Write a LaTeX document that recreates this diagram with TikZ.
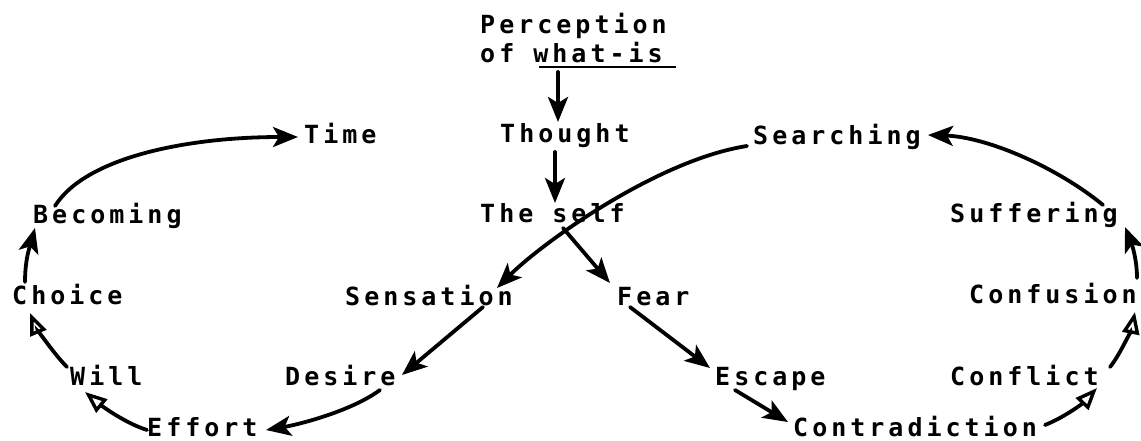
\documentclass[tikz,border=0pt]{standalone}
\usepackage{fontspec}
\newfontfamily\dm[LetterSpace=16]{DejaVu Sans Mono Bold}
\usetikzlibrary{arrows.meta,calc}
\begin{document}
\begin{tikzpicture}[x=1pt,y=-1pt,
  lbl/.style={font=\dm\fontsize{25}{28}\selectfont, inner sep=0pt, anchor=base west},
  con/.style={line width=3.8pt, line cap=round},
  fa/.style={con, -{Stealth[length=25pt,width=20pt,inset=6pt]}},
  oa/.style={con, -{Triangle[open,length=22pt,width=17pt,line width=3.4pt]}}]
\useasboundingbox (0,0) rectangle (1141,440);
\node[lbl] (perc) at (480,33) {Perception};
\node[lbl] (what) at (480,62) {of what-is};
\node[lbl] (time) at (304,143) {Time};
\node[lbl] (thought) at (500,142) {Thought};
\node[lbl] (search) at (753,144) {Searching};
\node[lbl] (becoming) at (33,223) {Becoming};
\node[lbl] (self) at (480,222) {The self};
\node[lbl] (suffer) at (950,222) {Suffering};
\node[lbl] (choice) at (12,304) {Choice};
\node[lbl] (sens) at (345,305) {Sensation};
\node[lbl] (fear) at (617,305) {Fear};
\node[lbl] (confu) at (969,303) {Confusion};
\node[lbl] (will) at (70,385) {Will};
\node[lbl] (desire) at (285,385) {Desire};
\node[lbl] (escape) at (715,385) {Escape};
\node[lbl] (conflict) at (950,385) {Conflict};
\node[lbl] (effort) at (147,436) {Effort};
\node[lbl] (contra) at (793,436) {Contradiction};
% underline
\draw[line width=2.6pt] ($(what.base west)+(59,5)$) -- ($(what.base west)+(196,5)$);
% arrows
\draw[fa] ($(what.base west)+(78,10)$) -- ($(thought.base west)+(58,-20)$);
\draw[fa] ($(thought.base west)+(55,10)$) -- ($(self.base west)+(75,-19)$);
\draw[fa] ($(becoming.base west)+(22,-17)$) .. controls ($(becoming.base west)+(52,-65)$) and ($(time.base west)+(-119,-6)$) .. ($(time.base west)+(-6,-6)$);
\draw[fa] ($(search.base west)+(-6,2)$) .. controls ($(search.base west)+(-96,16)$) and ($(sens.base west)+(197,-62)$) .. ($(sens.base west)+(152,-17)$);
\draw[fa] ($(self.base west)+(83,6)$) -- ($(fear.base west)+(-7,-22)$);
\draw[fa] ($(sens.base west)+(138,2)$) -- ($(desire.base west)+(117,-10)$);
\draw[fa] ($(fear.base west)+(13,2)$) -- ($(escape.base west)+(-5,-17)$);
\draw[fa] ($(desire.base west)+(95,5)$) .. controls ($(desire.base west)+(65,27)$) and ($(effort.base west)+(149,-11)$) .. ($(effort.base west)+(119,-6)$);
\draw[fa] ($(escape.base west)+(20,5)$) -- ($(contra.base west)+(-5,-14)$);
\draw[oa] ($(contra.base west)+(252,-11)$) .. controls ($(contra.base west)+(272,-19)$) and ($(conflict.base west)+(133,18)$) .. ($(conflict.base west)+(147,3)$);
\draw[oa] ($(conflict.base west)+(160,-18)$) .. controls ($(conflict.base west)+(170,-30)$) and ($(confu.base west)+(163,24)$) .. ($(confu.base west)+(166,9)$);
\draw[fa] ($(confu.base west)+(168,-25)$) .. controls ($(confu.base west)+(168,-45)$) and ($(suffer.base west)+(181,20)$) .. ($(suffer.base west)+(175,5)$);
\draw[fa] ($(suffer.base west)+(153,-17)$) .. controls ($(suffer.base west)+(108,-54)$) and ($(search.base west)+(235,-7)$) .. ($(search.base west)+(175,-9)$);
\draw[fa] ($(choice.base west)+(13,-22)$) .. controls ($(choice.base west)+(13,-47)$) and ($(becoming.base west)+(-2,20)$) .. ($(becoming.base west)+(2,5)$);
\draw[oa] ($(will.base west)+(-3,-18)$) .. controls ($(will.base west)+(-18,-33)$) and ($(choice.base west)+(23,21)$) .. ($(choice.base west)+(18,9)$);
\draw[oa] ($(effort.base west)+(0,-6)$) .. controls ($(effort.base west)+(-25,-14)$) and ($(will.base west)+(27,17)$) .. ($(will.base west)+(15,7)$);
\end{tikzpicture}
\end{document}
